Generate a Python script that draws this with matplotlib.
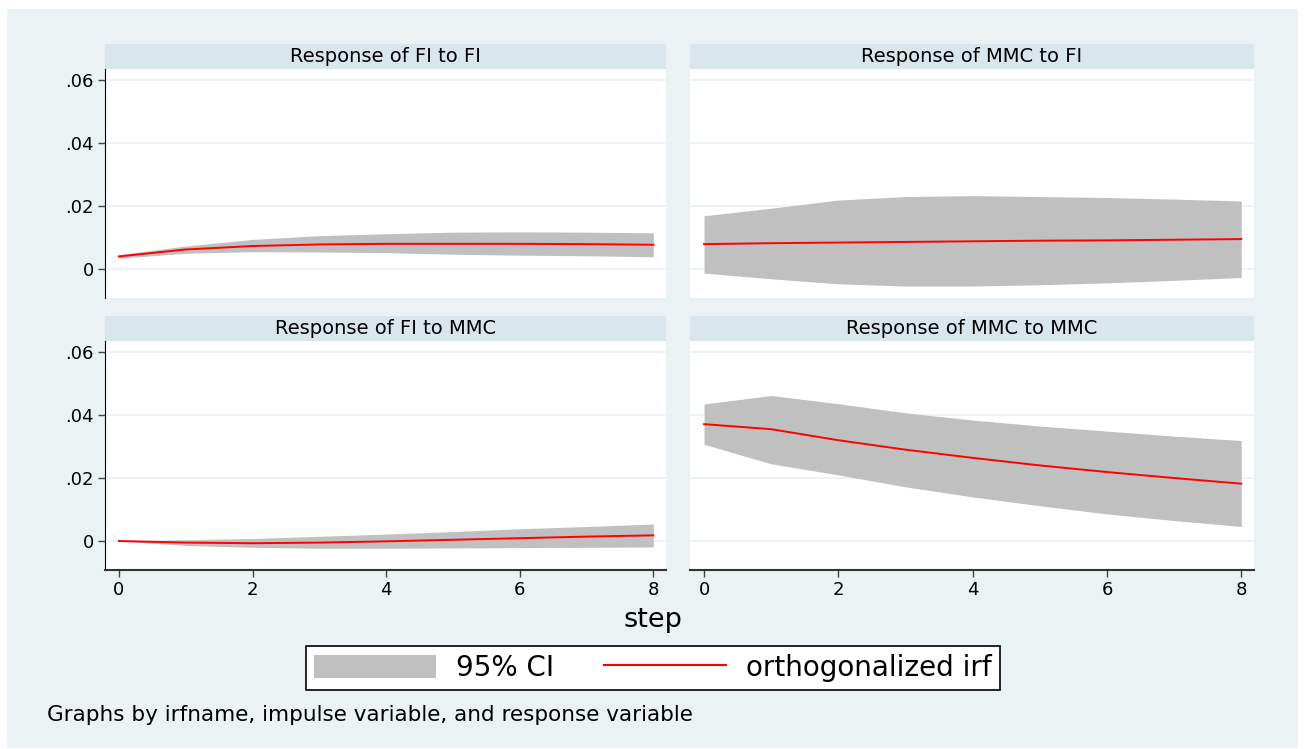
import matplotlib
matplotlib.use("Agg")
import matplotlib.pyplot as plt
from matplotlib.patches import Rectangle, Patch
from matplotlib.lines import Line2D

plt.rcParams['font.family'] = ['DejaVu Sans']

steps = [0, 1, 2, 3, 4, 5, 6, 7, 8]
titles = ["Response of FI to FI", "Response of MMC to FI",
          "Response of FI to MMC", "Response of MMC to MMC"]

irf_fi_fi = [0.0040, 0.0062, 0.0073, 0.0078, 0.0080, 0.0080, 0.0080, 0.0079, 0.0077]
lo_fi_fi = [0.0034, 0.0050, 0.0055, 0.0054, 0.0052, 0.0047, 0.0044, 0.0042, 0.0039]
hi_fi_fi = [0.0046, 0.0073, 0.0094, 0.0106, 0.0112, 0.0117, 0.0118, 0.0117, 0.0115]

irf_mmc_fi = [0.0079, 0.0082, 0.0084, 0.0086, 0.0088, 0.0090, 0.0091, 0.0093, 0.0095]
lo_mmc_fi = [-0.0013, -0.0031, -0.0047, -0.0054, -0.0054, -0.0050, -0.0044, -0.0036, -0.0027]
hi_mmc_fi = [0.0169, 0.0193, 0.0219, 0.0230, 0.0233, 0.0230, 0.0227, 0.0222, 0.0216]

irf_fi_mmc = [0.0, -0.0005, -0.0007, -0.0005, -0.0001, 0.0004, 0.0009, 0.0014, 0.0018]
lo_fi_mmc = [0.0, -0.0014, -0.0020, -0.0023, -0.0023, -0.0022, -0.0021, -0.0020, -0.0019]
hi_fi_mmc = [0.0, 0.0004, 0.0008, 0.0015, 0.0022, 0.0030, 0.0039, 0.0046, 0.0054]

irf_mmc_mmc = [0.0371, 0.0355, 0.0320, 0.0290, 0.0264, 0.0240, 0.0219, 0.0200, 0.0182]
lo_mmc_mmc = [0.0307, 0.0245, 0.0210, 0.0172, 0.0140, 0.0112, 0.0086, 0.0065, 0.0046]
hi_mmc_mmc = [0.0435, 0.0462, 0.0436, 0.0407, 0.0384, 0.0365, 0.0349, 0.0333, 0.0319]

yticks = [0, 0.02, 0.04, 0.06]
ytick_labels = ["0", ".02", ".04", ".06"]
xticks = [0, 2, 4, 6, 8]

series = [(irf_fi_fi, lo_fi_fi, hi_fi_fi), (irf_mmc_fi, lo_mmc_fi, hi_mmc_fi),
          (irf_fi_mmc, lo_fi_mmc, hi_fi_mmc), (irf_mmc_mmc, lo_mmc_mmc, hi_mmc_mmc)]

W, H = 1306, 749
bg = '#eaf2f3'
strip = '#d9e6eb'
grey = '#c0c0c0'

fig = plt.figure(figsize=(W / 100, H / 100), dpi=100)
fig.patch.set_facecolor('white')
fig.patches.append(Rectangle((7 / W, 1 - 748 / H), (1298 - 7) / W, (748 - 9) / H,
                             transform=fig.transFigure, facecolor=bg, edgecolor='none', zorder=-5))


def px_axes(x0, y0, x1, y1, **kw):
    return fig.add_axes([x0 / W, 1 - y1 / H, (x1 - x0) / W, (y1 - y0) / H], **kw)


cols = [(105, 666), (690, 1254)]
rows = [(44, 69, 298), (316, 341, 570)]

for i, (irf, lo, hi) in enumerate(series):
    r, c = divmod(i, 2)
    x0, x1 = cols[c]
    ts, t1, b = rows[r]
    # title strip
    sa = px_axes(x0, ts, x1, t1)
    sa.set_facecolor(strip)
    sa.set_xticks([])
    sa.set_yticks([])
    for s in sa.spines.values():
        s.set_visible(False)
    sa.text(0.5, 0.5, titles[i], ha='center', va='center', fontsize=14, transform=sa.transAxes)

    ax = px_axes(x0, t1, x1, b)
    ax.set_facecolor('white')
    ax.fill_between(steps, lo, hi, color=grey, linewidth=0, zorder=2)
    ax.plot(steps, irf, color='red', lw=1.4, zorder=3)
    ax.set_xlim(-0.209, 8.19)
    ax.set_ylim(-0.0092, 0.0635)
    ax.set_yticks(yticks)
    ax.grid(axis='y', color=bg, lw=1.2, zorder=1)
    for s in ['top', 'right']:
        ax.spines[s].set_visible(False)
    ax.spines['left'].set_visible(c == 0)
    ax.spines['bottom'].set_visible(r == 1)
    ax.spines['left'].set_color('black')
    ax.spines['bottom'].set_color('#333333')
    ax.spines['bottom'].set_linewidth(1.5)
    if c == 0:
        ax.set_yticklabels(ytick_labels, fontsize=13)
        ax.tick_params(axis='y', length=5, width=1, pad=3, color='#444444')
    else:
        ax.tick_params(axis='y', length=0, labelleft=False)
    ax.set_xticks(xticks)
    if r == 1:
        ax.set_xticklabels([str(t) for t in xticks], fontsize=13)
        ax.tick_params(axis='x', length=5, width=1, pad=3, color='#444444')
    else:
        ax.tick_params(axis='x', length=0, labelbottom=False)

fig.text(653 / W, 1 - 620 / H, "step", ha='center', va='center', fontsize=19.5)

handles = [Patch(facecolor=grey, edgecolor='none'), Line2D([0], [0], color='red', lw=1.5)]
leg = fig.legend(handles, ["95% CI", "orthogonalized irf"], ncol=2, fontsize=20,
                 loc='center', bbox_to_anchor=(653 / W, 1 - 668 / H),
                 frameon=True, fancybox=False, edgecolor='black', framealpha=1,
                 handlelength=4.4, handleheight=0.9, handletextpad=0.72, columnspacing=1.8,
                 borderpad=0.3)
leg.get_frame().set_linewidth(1.2)

fig.text(47 / W, 1 - 715 / H, "Graphs by irfname, impulse variable, and response variable",
         ha='left', va='center', fontsize=15.5)

fig.savefig("out.png", dpi=100, facecolor='white')
